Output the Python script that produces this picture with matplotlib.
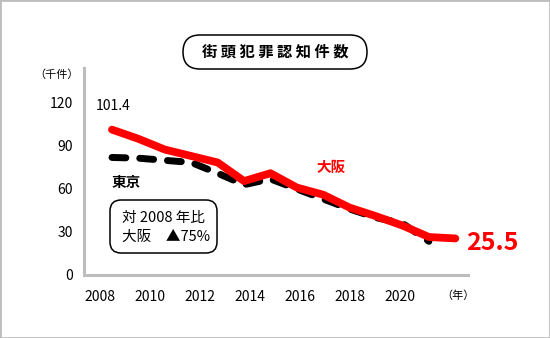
import numpy as np
import matplotlib
matplotlib.use('Agg')
import matplotlib.pyplot as plt
from matplotlib.patches import FancyBboxPatch, Rectangle
from matplotlib.transforms import IdentityTransform

plt.rcParams['font.family'] = ['Noto Sans CJK JP', 'DejaVu Sans']

# street crime counts (thousand cases)
years_osaka = [2008, 2009, 2010, 2011, 2012, 2013, 2014, 2015, 2016, 2017, 2018, 2019, 2020, 2021]
osaka = [101.4, 95, 87.5, 83, 78.5, 65.5, 71, 61, 56, 47, 41, 34.5, 26.5, 25.5]
years_tokyo = [2008, 2009, 2010, 2011, 2012, 2013, 2014, 2015, 2016, 2017, 2018, 2019, 2020]
tokyo = [82, 81.5, 80, 78.5, 71, 63, 67, 60, 53, 46, 40, 36, 23.5]
tick_years = [2008, 2010, 2012, 2014, 2016, 2018, 2020]
y_ticks = [0, 30, 60, 90, 120]

RED = '#ff0000'
GRAY = '#bdbdbd'

W, H = 550, 338
fig = plt.figure(figsize=(W / 100, H / 100), dpi=100)
ax = fig.add_axes([84 / W, (H - 275) / H, (468 - 84) / W, (275 - 68) / H])

ax.plot(years_tokyo, tokyo, color='black', lw=5, dashes=(2, 2),
        dash_capstyle='round', solid_capstyle='round', zorder=2)
ax.plot(years_osaka, osaka, color=RED, lw=5.6, solid_capstyle='round',
        solid_joinstyle='round', zorder=3, clip_on=False)

ax.set_xlim(2006.94, 2021.48)
ax.set_ylim(0, 144.4)

# year labels sit slightly left of the data points
tick_pos = [2008 + (y - 2008) * 25 / 26.4 - 12 / 26.4 for y in tick_years]
ax.set_xticks(tick_pos)
ax.set_xticklabels([str(y) for y in tick_years])
ax.set_yticks(y_ticks)
ax.tick_params(length=0, labelsize=10, colors='black')
ax.tick_params(axis='x', pad=11)
ax.tick_params(axis='y', pad=8)

for s in ['top', 'right']:
    ax.spines[s].set_visible(False)
for s in ['left', 'bottom']:
    ax.spines[s].set_color(GRAY)
    ax.spines[s].set_linewidth(2.2)

# value labels
ax.annotate(f'{osaka[0]}', (years_osaka[0], osaka[0]), xytext=(1, 12),
            textcoords='offset points', ha='center', va='bottom', fontsize=10)
ax.annotate(f'{osaka[-1]}', (years_osaka[-1], osaka[-1]), xytext=(8, -3),
            textcoords='offset points', ha='left', va='center',
            fontsize=18, fontweight='bold', color=RED, annotation_clip=False)

ax.text(2016.3, 75.3, '大阪', color=RED, fontsize=10.5, fontweight='bold',
        ha='center', va='center')
ax.text(2008.53, 64.9, '東京', color='black', fontsize=10.5, fontweight='bold',
        ha='center', va='center')

px = IdentityTransform()

# comparison box
fig.patches.append(FancyBboxPatch((110, H - 253), 107, 53,
                                  boxstyle='round,pad=0,rounding_size=11',
                                  transform=px, fc='white', ec='black', lw=1.1))
fig.text(122, H - 218, '対 2008 年比', transform=px, fontsize=10.5,
         ha='left', va='center')
fig.text(122, H - 237, '大阪\u3000▲75%', transform=px, fontsize=10.5,
         ha='left', va='center')

# title pill
fig.patches.append(FancyBboxPatch((183, H - 69), 184, 34,
                                  boxstyle='round,pad=0,rounding_size=17',
                                  transform=px, fc='white', ec='black', lw=1.1))
fig.text(275, H - 52, ' '.join('街頭犯罪認知件数'), transform=px, fontsize=11,
         fontweight='bold', ha='center', va='center')

# unit labels
fig.text(57, H - 75, '（千件）', transform=px, fontsize=8, ha='center', va='center')
fig.text(458, H - 296, '（年）', transform=px, fontsize=8, ha='center', va='center')

# outer frame
fig.patches.append(Rectangle((0, 0), 1, 1, transform=fig.transFigure,
                             fill=False, ec=GRAY, lw=2))

fig.savefig('out.png', dpi=100)
